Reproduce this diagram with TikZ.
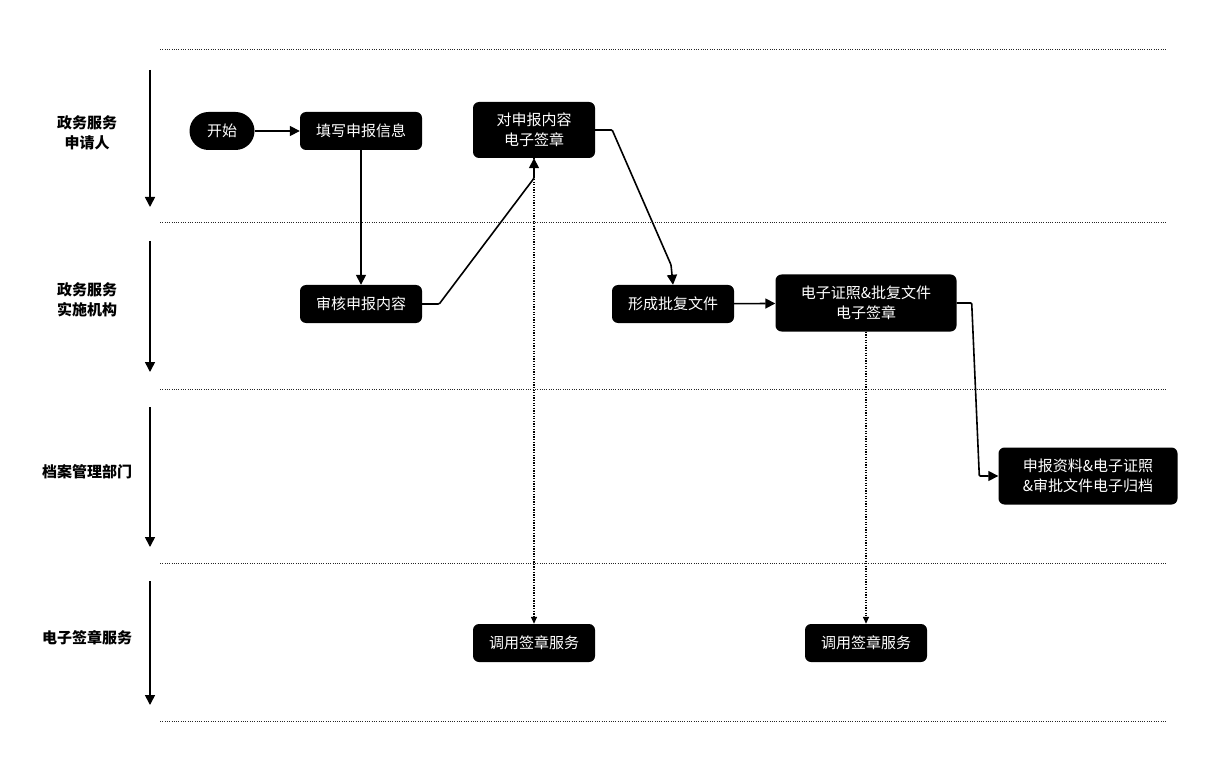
\documentclass[tikz,border=0pt]{standalone}
\usepackage{fontspec}
\setmainfont{Noto Sans CJK SC}
\usetikzlibrary{arrows.meta}
\usetikzlibrary{calc}
\tikzset{
    task/.style={fill=black, text=white, rounded corners=6pt, align=center,
        minimum width=122pt, minimum height=38pt, inner sep=2pt,
        font=\fontsize{15}{20}\selectfont},
    terminal/.style={task, rounded corners=19pt, minimum width=65pt},
    lane label/.style={align=center, font=\fontsize{15}{20}\selectfont\bfseries},
    lane sep/.style={line width=1pt, dash pattern=on 1pt off 1.3pt, black!85},
    lane arrow/.style={line width=1.6pt, -{Triangle[length=10pt,width=10pt]}},
    flow/.style={line width=1.6pt, rounded corners=1pt, -{Triangle[length=10pt,width=10pt]}},
    call/.style={line width=1.4pt, dash pattern=on 1.3pt off 1.3pt, -{Triangle[length=7pt,width=6pt]}},
}

\begin{document}
\begin{tikzpicture}[x=1pt, y=-1pt]
    \useasboundingbox (0,0) rectangle (1222,775);

    % lanes
    \foreach \Y in {50,223,389,563,721}{
        \draw[lane sep] (160,\Y) -- (1166,\Y);
    }
    \foreach \T/\B in {70/207,241/372,407/547,581/705}{
        \draw[lane arrow] (150,\T) -- (150,\B);
    }

    \node[lane label] (laneA) at (87,133) {政务服务\\申请人};
    \node[lane label] (laneB) at (87,300) {政务服务\\实施机构};
    \node[lane label] (laneC) at (87,472) {档案管理部门};
    \node[lane label] (laneD) at (87,638) {电子签章服务};

    % steps
    \node[terminal] (start) at (222,131) {开始};
    \node[task] (fill) at (361,131) {填写申报信息};
    \node[task, minimum height=56pt] (sign) at (534,130) {对申报内容\\电子签章};
    \node[task] (audit) at (361,304) {审核申报内容};
    \node[task] (reply) at (673,304) {形成批复文件};
    \node[task, minimum width=181pt, minimum height=57pt] (certsign) at (866,303) {电子证照\&批复文件\\电子签章};
    \node[task, minimum width=179pt, minimum height=57pt] (archive) at (1088,476) {申报资料\&电子证照\\\&审批文件电子归档};
    \node[task] (callA) at (534,643) {调用签章服务};
    \node[task] (callB) at (866,643) {调用签章服务};

    % connectors
    \draw[call] (sign) -- (callA);
    \draw[call] (certsign) -- (callB);

    \draw[flow] (start) -- (fill);
    \draw[flow] (fill) -- (audit);
    \draw[flow] (audit.east) -- ++(17,0) -- ($(sign.south)+(0,20)$) -- (sign.south);
    \draw[flow] (sign.east) -- ++(17,0) -- ($(reply.north)+(-2,-20)$) -- (reply.north);
    \draw[flow] (reply) -- (certsign);
    \draw[flow] (certsign.east) -- ++(15,0) -- ($(archive.west)+(-19,0)$) -- (archive.west);

\end{tikzpicture}
\end{document}
